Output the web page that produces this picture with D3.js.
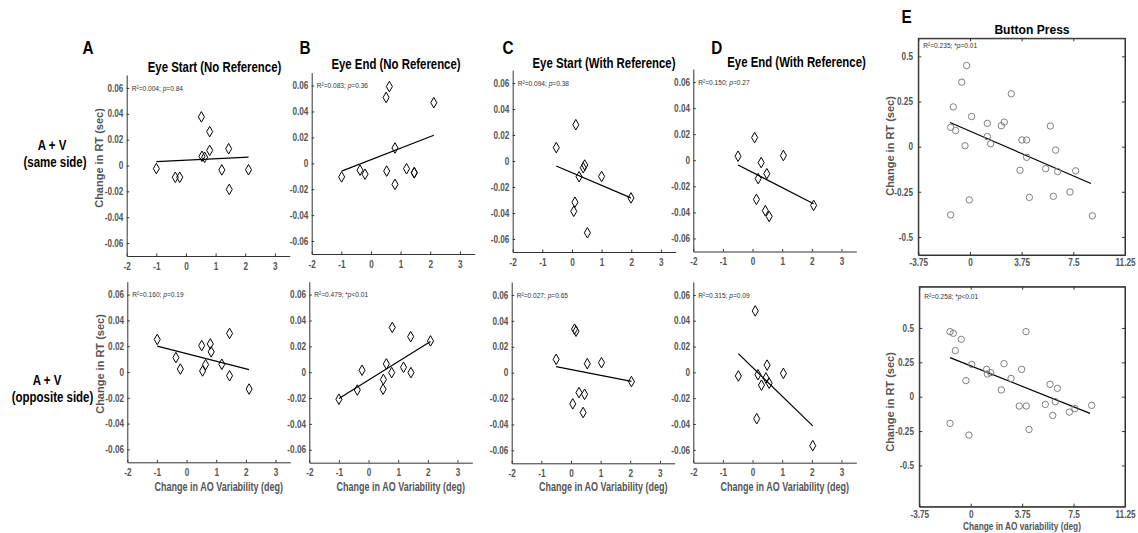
<!DOCTYPE html>
<html>
<head>
<meta charset="utf-8">
<title>AO variability vs RT change</title>
<script src="https://d3js.org/d3.v7.min.js"></script>
<style>
  body { margin: 0; background: #fff; }
  svg { font-family: "Liberation Sans", Arial, sans-serif; }
  .axis path, .axis line { stroke: #333; stroke-width: 1; }
  .axis text { font-size: 10px; font-weight: bold; fill: #555; font-family: "Liberation Sans", Arial, sans-serif; }
  .diamond { fill: none; stroke: #000; stroke-width: 1; }
  .ring { fill: none; stroke: #7f7f7f; stroke-width: 1; }
  .fit { fill: none; stroke: #000; stroke-width: 1.2; }
  .box { fill: none; stroke: #333; stroke-width: 1; }
</style>
</head>
<body>
<svg width="1138" height="533"></svg>
<script>
// ---- data ----
const panelTitles = ["Eye Start (No Reference)", "Eye End (No Reference)", "Eye Start (With Reference)", "Eye End (With Reference)"];
const rowLabels = [["A + V", "(same side)"], ["A + V", "(opposite side)"]];
const statsTopRow = ["R²=0.004; p=0.84", "R²=0.083; p=0.36", "R²=0.094; p=0.38", "R²=0.150; p=0.27"];
const statsBottomRow = ["R²=0.160; p=0.19", "R²=0.479; *p<0.01", "R²=0.027; p=0.65", "R²=0.315; p=0.09"];
const statsE = ["R²=0.235; *p=0.01", "R²=0.258; *p<0.01"];

const xTicksAD = [-2, -1, 0, 1, 2, 3];
const yTicksAD = [-0.06, -0.04, -0.02, 0, 0.02, 0.04, 0.06];
const xTicksE = [-3.75, 0, 3.75, 7.5, 11.25];
const yTicksE = [-0.5, -0.25, 0, 0.25, 0.5];

// same side (top row)
const aTopX = [-1.0, -0.36, -0.21, 0.52, 0.54, 0.63, 0.8, 0.8, 1.21, 1.44, 1.46, 2.11];
const aTopY = [-0.0024, -0.0091, -0.0091, 0.0376, 0.0071, 0.0064, 0.0262, 0.0117, -0.0034, 0.013, -0.0185, -0.0033];
const aTopFit = [[-1.0, 0.003], [2.11, 0.0065]];

const bTopX = [-0.99, -0.37, -0.2, 0.51, 0.62, 0.53, 0.81, 0.81, 1.2, 1.46, 1.46, 2.12];
const bTopY = [-0.0105, -0.0053, -0.0084, 0.0508, 0.0592, -0.006, 0.0118, -0.0163, -0.0042, -0.0071, -0.0074, 0.0468];
const bTopFit = [[-0.99, -0.006], [2.12, 0.0216]];

const cTopX = [-0.53, 0.13, 0.06, 0.1, 0.24, 0.38, 0.43, 0.52, 1.0, 1.99];
const cTopY = [0.0103, 0.0279, -0.0387, -0.0317, -0.0121, -0.0052, -0.0031, -0.0552, -0.0119, -0.0284];
const cTopFit = [[-0.53, -0.0039], [1.99, -0.0284]];

const dTopX = [-0.49, 0.07, 0.29, 0.19, 0.48, 0.13, 0.43, 0.56, 1.04, 2.06];
const dTopY = [0.0031, 0.0174, -0.0018, -0.0141, -0.0103, -0.03, -0.0387, -0.0431, 0.0036, -0.0346];
const dTopFit = [[-0.49, -0.0036], [2.06, -0.0333]];

// opposite side (bottom row)
const aBotX = [-0.99, -0.36, -0.21, 0.51, 0.54, 0.64, 0.8, 0.83, 1.19, 1.45, 1.45, 2.11];
const aBotY = [0.0252, 0.0112, 0.0023, 0.0205, 0.0008, 0.0057, 0.0218, 0.0156, 0.006, 0.0299, -0.0029, -0.0132];
const aBotFit = [[-0.99, 0.02], [2.11, 0.0018]];

const bBotX = [-1.0, -0.38, -0.22, 0.5, 0.49, 0.6, 0.8, 0.78, 1.18, 1.42, 1.43, 2.09];
const bBotY = [-0.0209, -0.0138, 0.0015, -0.0056, -0.0132, 0.0064, 0.0346, -0.0003, 0.0038, 0.0275, -0.0003, 0.0242];
const bBotFit = [[-1.0, -0.0204], [2.09, 0.0237]];

const cBotX = [-0.5, 0.12, 0.17, 0.06, 0.27, 0.41, 0.46, 0.55, 1.03, 2.04];
const cBotY = [0.0103, 0.0336, 0.032, -0.0241, -0.0154, -0.0308, -0.0167, 0.0069, 0.0077, -0.0069];
const cBotFit = [[-0.5, 0.0046], [2.04, -0.0067]];

const dBotX = [-0.48, 0.09, 0.14, 0.18, 0.3, 0.45, 0.49, 0.56, 1.04, 2.03];
const dBotY = [-0.0028, 0.0476, -0.0359, -0.0018, -0.0099, -0.0043, 0.0056, -0.0084, -0.0008, -0.0568];
const dBotFit = [[-0.48, 0.0145], [2.03, -0.0415]];

// button press (E)
const eTopX = [-1.4, -1.21, -1.04, -1.4, -0.6, -0.24, -0.36, -0.05, 0.12, 1.26, 1.26, 1.5, 2.27, 2.49, 3.0, 3.63, 3.77, 4.11, 4.11, 4.31, 5.49, 5.83, 6.05, 6.22, 6.36, 7.26, 7.67, 8.88];
const eTopY = [0.107, 0.22, 0.089, -0.378, 0.357, 0.449, 0.005, -0.295, 0.167, 0.129, 0.056, 0.016, 0.116, 0.136, 0.293, -0.131, 0.037, 0.037, -0.059, -0.281, -0.122, 0.114, -0.275, -0.019, -0.138, -0.251, -0.134, -0.383];
const eTopFit = [[-1.45, 0.134], [8.78, -0.204]];

const eBotX = [-1.51, -1.27, -1.12, -1.51, -0.69, -0.35, -0.13, 0.07, 1.16, 1.21, 1.45, 2.23, 2.43, 2.94, 3.54, 3.71, 4.03, 4.05, 4.25, 5.44, 5.78, 5.98, 6.17, 6.32, 7.19, 7.6, 8.82];
const eBotY = [0.473, 0.461, 0.335, -0.194, 0.417, 0.117, -0.279, 0.235, 0.199, 0.165, 0.175, 0.049, 0.24, 0.133, -0.068, 0.199, 0.473, -0.068, -0.238, -0.056, 0.09, -0.136, -0.036, 0.061, -0.112, -0.087, -0.063];
const eBotFit = [[-1.51, 0.284], [8.7, -0.121]];

// ---- drawing ----
const svg = d3.select("svg");

// condensed text helper (the figure uses a narrow bold face)
function label(str, x, y, o) {
  const g = svg.append("g")
    .attr("transform", `translate(${x},${y}) rotate(${o.rotate || 0}) scale(${o.sx || 1},1)`);
  g.append("text")
    .attr("text-anchor", o.anchor || "middle")
    .attr("dy", "0.36em")
    .style("font-size", o.size + "px")
    .style("font-weight", o.weight || "bold")
    .style("fill", o.fill || "#000")
    .text(str);
}

function stats(str, x, y) {
  const i = str.lastIndexOf("p");
  const t = svg.append("g")
    .attr("transform", `translate(${x},${y}) scale(0.88,1)`)
    .append("text")
      .attr("dy", "0.36em")
      .style("font-size", "7.5px")
      .style("fill", "#333");
  t.append("tspan").text(str.slice(0, i));
  t.append("tspan").style("font-style", "italic").text("p");
  t.append("tspan").text(str.slice(i + 1));
}

const yFmt = d => d === 0 ? "0" : d.toFixed(2);
const xFmt = d => String(d);
const diamond = d3.symbol().type(d3.symbolDiamond).size(32);

function eyePanel(p) {
  const x = d3.scaleLinear().domain([-2, 3.5]).range([p.left, p.left + 163]);
  const y = d3.scaleLinear().domain([-0.07, 0.07]).range([p.bottom, p.top]);

  svg.append("g").attr("class", "axis")
    .attr("transform", `translate(0,${p.bottom})`)
    .call(d3.axisBottom(x).tickValues(xTicksAD).tickFormat(xFmt)
      .tickSizeInner(-2.5).tickSizeOuter(0).tickPadding(6.5))
    .selectAll("text").attr("transform", "scale(0.82,1)");

  svg.append("g").attr("class", "axis")
    .attr("transform", `translate(${p.left},0)`)
    .call(d3.axisLeft(y).tickValues(yTicksAD).tickFormat(yFmt)
      .tickSizeInner(-2.5).tickSizeOuter(0).tickPadding(4))
    .selectAll("text").attr("transform", "scale(0.82,1)");

  svg.append("path").attr("class", "fit")
    .attr("d", d3.line().x(d => x(d[0])).y(d => y(d[1]))(p.fit));

  svg.append("g").selectAll("path")
    .data(p.xs.map((v, i) => [v, p.ys[i]]))
    .join("path")
      .attr("class", "diamond")
      .attr("d", diamond)
      .attr("transform", d => `translate(${x(d[0])},${y(d[1])})`);

  stats(p.stat, p.left + 5, y(0.06));
}

function buttonPanel(p) {
  const x = d3.scaleLinear().domain([-3.75, 11.25]).range([p.left, p.right]);
  const y = d3.scaleLinear().domain(p.yDomain).range([p.bottom, p.top]);

  svg.append("rect").attr("class", "box")
    .attr("x", p.left).attr("y", p.top)
    .attr("width", p.right - p.left).attr("height", p.bottom - p.top);

  svg.append("g").attr("class", "axis")
    .attr("transform", `translate(0,${p.bottom})`)
    .call(d3.axisBottom(x).tickValues(xTicksE).tickFormat(xFmt)
      .tickSizeInner(-3).tickSizeOuter(0).tickPadding(4))
    .selectAll("text").attr("transform", "scale(0.82,1)");
  svg.append("g").attr("class", "axis")
    .attr("transform", `translate(0,${p.top})`)
    .call(d3.axisTop(x).tickValues(xTicksE).tickFormat("")
      .tickSizeInner(-3).tickSizeOuter(0));

  svg.append("g").attr("class", "axis")
    .attr("transform", `translate(${p.left},0)`)
    .call(d3.axisLeft(y).tickValues(yTicksE).tickFormat(xFmt)
      .tickSizeInner(-3).tickSizeOuter(0).tickPadding(6.5))
    .selectAll("text").attr("transform", "scale(0.82,1)");
  svg.append("g").attr("class", "axis")
    .attr("transform", `translate(${p.right},0)`)
    .call(d3.axisRight(y).tickValues(yTicksE).tickFormat("")
      .tickSizeInner(-3).tickSizeOuter(0));

  svg.append("path").attr("class", "fit")
    .attr("d", d3.line().x(d => x(d[0])).y(d => y(d[1]))(p.fit));

  svg.append("g").selectAll("circle")
    .data(p.xs.map((v, i) => [v, p.ys[i]]))
    .join("circle")
      .attr("class", "ring")
      .attr("r", 3.2)
      .attr("cx", d => x(d[0]))
      .attr("cy", d => y(d[1]));

  stats(p.stat, p.left + 5, p.statY);
}

const topRow = [
  { left: 126.7, top: 75, bottom: 256, xs: aTopX, ys: aTopY, fit: aTopFit, tx: 214.5, ty: 67, letter: "A", lx: 88, ly: 48 },
  { left: 311.7, top: 72.6, bottom: 254, xs: bTopX, ys: bTopY, fit: bTopFit, tx: 396, ty: 63.5, letter: "B", lx: 305, ly: 48 },
  { left: 512.7, top: 70, bottom: 252, xs: cTopX, ys: cTopY, fit: cTopFit, tx: 604, ty: 63, letter: "C", lx: 508, ly: 48 },
  { left: 693.3, top: 69, bottom: 251.5, xs: dTopX, ys: dTopY, fit: dTopFit, tx: 796.5, ty: 62, letter: "D", lx: 716.7, ly: 48 }
];
const bottomRow = [
  { left: 127.3, top: 281.7, bottom: 462.3, xs: aBotX, ys: aBotY, fit: aBotFit },
  { left: 309.3, top: 281.7, bottom: 462.7, xs: bBotX, ys: bBotY, fit: bBotFit },
  { left: 511.7, top: 282, bottom: 463.3, xs: cBotX, ys: cBotY, fit: cBotFit },
  { left: 693.3, top: 282, bottom: 462.7, xs: dBotX, ys: dBotY, fit: dBotFit }
];

topRow.forEach((p, i) => {
  eyePanel({ ...p, stat: statsTopRow[i] });
  label(panelTitles[i], p.tx, p.ty, { size: 15, sx: 0.76 });
  label(p.letter, p.lx, p.ly, { size: 18, sx: 0.85 });
});
bottomRow.forEach((p, i) => {
  eyePanel({ ...p, stat: statsBottomRow[i] });
  label("Change in AO Variability (deg)", p.left + 91.5, 486.5, { size: 12, sx: 0.75, fill: "#555" });
});

// row labels + y axis titles of the first column
label(rowLabels[0][0], 52, 145, { size: 14, sx: 0.82 });
label(rowLabels[0][1], 55, 161.7, { size: 14, sx: 0.82 });
label(rowLabels[1][0], 47, 380, { size: 14, sx: 0.82 });
label(rowLabels[1][1], 52.5, 396.7, { size: 14, sx: 0.82 });
label("Change in RT (sec)", 99.3, 158, { size: 11, rotate: -90, fill: "#555" });
label("Change in RT (sec)", 100, 364, { size: 11, rotate: -90, fill: "#555" });

// panel E
buttonPanel({ left: 918.3, right: 1125, top: 38.3, bottom: 255, yDomain: [-0.6, 0.6],
  xs: eTopX, ys: eTopY, fit: eTopFit, stat: statsE[0], statY: 45 });
buttonPanel({ left: 919.3, right: 1125, top: 286.7, bottom: 506.7, yDomain: [-0.8, 0.8],
  xs: eBotX, ys: eBotY, fit: eBotFit, stat: statsE[1], statY: 296.7 });
label("E", 906.7, 16.7, { size: 18, sx: 0.85 });
label("Button Press", 1032, 29, { size: 13, sx: 0.93 });
label("Change in RT (sec)", 890, 146, { size: 11, rotate: -90, fill: "#555" });
label("Change in RT (sec)", 890, 402, { size: 11, rotate: -90, fill: "#555" });
label("Change in AO variability (deg)", 1022, 526.3, { size: 11.5, sx: 0.72, fill: "#555" });
</script>
</body>
</html>
